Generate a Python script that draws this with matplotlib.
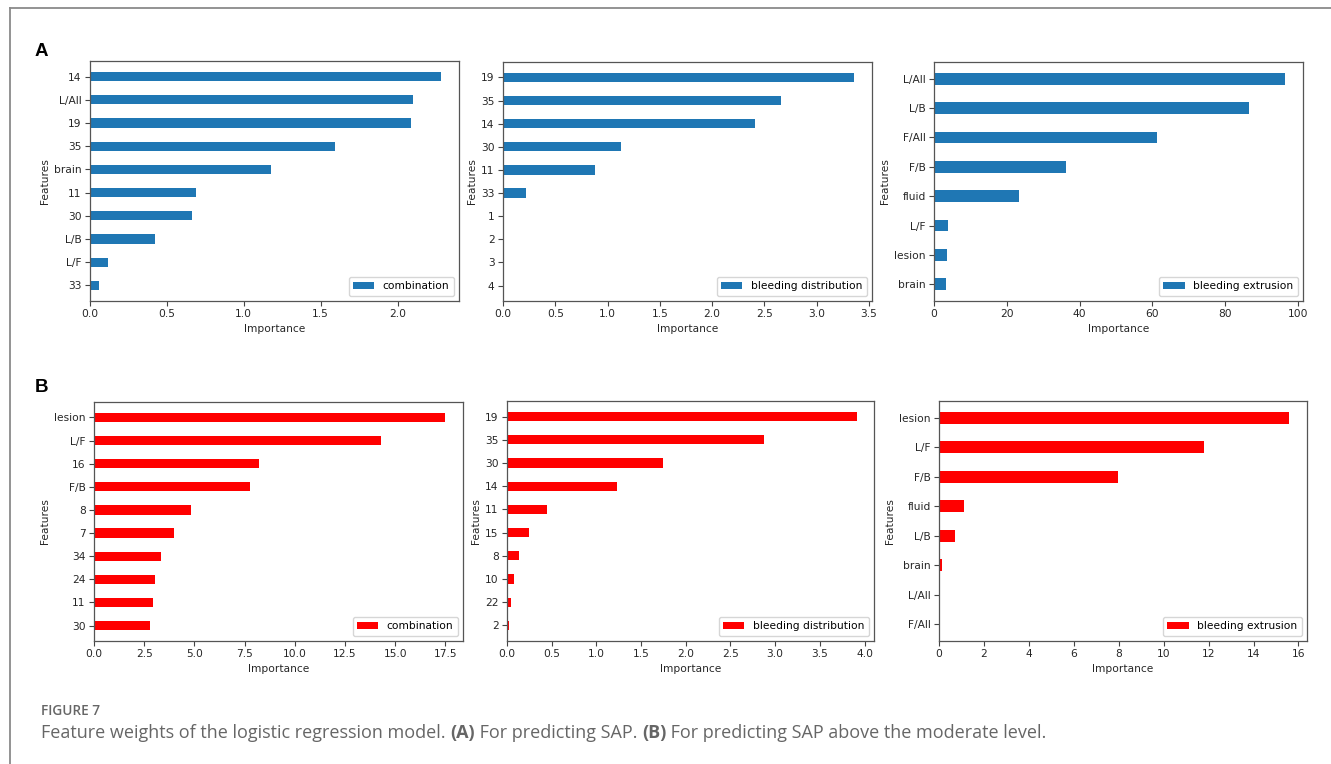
import matplotlib
matplotlib.use("Agg")
import matplotlib.pyplot as plt
from matplotlib.lines import Line2D

# Panel A: predicting SAP
a1_features = ["14", "L/All", "19", "35", "brain", "11", "30", "L/B", "L/F", "33"]
a1_values = [2.285, 2.098, 2.085, 1.59, 1.175, 0.686, 0.665, 0.421, 0.119, 0.061]

a2_features = ["19", "35", "14", "30", "11", "33", "1", "2", "3", "4"]
a2_values = [3.36, 2.66, 2.41, 1.13, 0.88, 0.224, 0.0, 0.0, 0.0, 0.0]

a3_features = ["L/All", "L/B", "F/All", "F/B", "fluid", "L/F", "lesion", "brain"]
a3_values = [96.6, 86.7, 61.4, 36.3, 23.3, 3.9, 3.6, 3.2]

# Panel B: predicting SAP above the moderate level
b1_features = ["lesion", "L/F", "16", "F/B", "8", "7", "34", "24", "11", "30"]
b1_values = [17.5, 14.27, 8.23, 7.79, 4.82, 3.99, 3.34, 3.06, 2.94, 2.79]

b2_features = ["19", "35", "30", "14", "11", "15", "8", "10", "22", "2"]
b2_values = [3.91, 2.88, 1.75, 1.226, 0.449, 0.241, 0.13, 0.082, 0.045, 0.022]

b3_features = ["lesion", "L/F", "F/B", "fluid", "L/B", "brain", "L/All", "F/All"]
b3_values = [15.6, 11.78, 7.96, 1.10, 0.70, 0.12, 0.0, 0.0]

series_names = ["combination", "bleeding distribution", "bleeding extrusion"]

caption_parts = [
    ("Feature weights of the logistic regression model. ", "normal"),
    ("(A)", "bold"),
    (" For predicting SAP. ", "normal"),
    ("(B)", "bold"),
    (" For predicting SAP above the moderate level.", "normal"),
]

W, H = 1331, 764
fig = plt.figure(figsize=(W / 100, H / 100), dpi=100)
fig.patch.set_facecolor("white")

FS = 7.7
TXT = "#262626"
plt.rcParams["font.family"] = ["DejaVu Sans"]


def px_axes(x0, y0, x1, y1):
    return fig.add_axes([x0 / W, 1 - y1 / H, (x1 - x0) / W, (y1 - y0) / H])


def draw_panel(rect, features, values, name, color):
    ax = px_axes(*rect)
    pos = list(range(len(features)))[::-1]
    ax.barh(pos, values, height=0.4, color=color, label=name)
    ax.set_yticks(pos)
    ax.set_yticklabels(features)
    ax.set_xlabel("Importance", fontsize=FS, color=TXT, labelpad=3)
    ax.set_ylabel("Features", fontsize=FS, color=TXT, labelpad=3)
    ax.tick_params(labelsize=FS, colors="#444444", labelcolor=TXT,
                   length=3.5, width=0.8, pad=2.5)
    for s in ax.spines.values():
        s.set_color("#555555")
        s.set_linewidth(0.9)
    ax.legend(loc="lower right", fontsize=FS, frameon=True,
              edgecolor="#cccccc", fancybox=True, borderaxespad=0.5)
    return ax


blue = "#1f77b4"
red = "#ff0000"

ax = draw_panel((90, 61, 459, 301), a1_features, a1_values, series_names[0], blue)
ax.set_xticks([0.0, 0.5, 1.0, 1.5, 2.0])
ax = draw_panel((503, 62, 872, 301), a2_features, a2_values, series_names[1], blue)
ax.set_xticks([0.0, 0.5, 1.0, 1.5, 2.0, 2.5, 3.0, 3.5])
ax = draw_panel((934, 62, 1303, 301), a3_features, a3_values, series_names[2], blue)
ax.set_xticks([0, 20, 40, 60, 80, 100])

ax = draw_panel((94, 402, 463, 641), b1_features, b1_values, series_names[0], red)
ax.set_xticks([0.0, 2.5, 5.0, 7.5, 10.0, 12.5, 15.0, 17.5])
ax = draw_panel((507, 401, 874, 641), b2_features, b2_values, series_names[1], red)
ax.set_xticks([0.0, 0.5, 1.0, 1.5, 2.0, 2.5, 3.0, 3.5, 4.0])
ax = draw_panel((939, 401, 1307, 641), b3_features, b3_values, series_names[2], red)
ax.set_xticks([0, 2, 4, 6, 8, 10, 12, 14, 16])

# Panel letters
fig.text(35 / W, 1 - 51 / H, "A", fontsize=13.5, fontweight="bold",
         family=["Liberation Sans"], ha="left", va="center", color="black")
fig.text(35 / W, 1 - 387 / H, "B", fontsize=13.5, fontweight="bold",
         family=["Liberation Sans"], ha="left", va="center", color="black")

# Outer frame (top and left edges)
frame_col = "#8a8a8a"
fig.add_artist(Line2D([10 / W, 1.0], [1 - 8 / H, 1 - 8 / H], color=frame_col,
                      linewidth=1.3, transform=fig.transFigure))
fig.add_artist(Line2D([10 / W, 10 / W], [1 - 8 / H, 0.0], color=frame_col,
                      linewidth=1.3, transform=fig.transFigure))

# Caption
cap_col = "#666666"
fig.text(41 / W, 1 - 711 / H, "FIGURE 7", fontsize=9.8, color=cap_col,
         family=["Open Sans"], fontweight="semibold", ha="left", va="center")

renderer = fig.canvas.get_renderer()
x_px = 41.0
for part, weight in caption_parts:
    t = fig.text(x_px / W, 1 - 733 / H, part, fontsize=13.0, color=cap_col,
                 family=["Open Sans"], fontweight=weight, ha="left", va="center")
    x_px += t.get_window_extent(renderer=renderer).width

fig.savefig("out.png", dpi=100, facecolor="white")
